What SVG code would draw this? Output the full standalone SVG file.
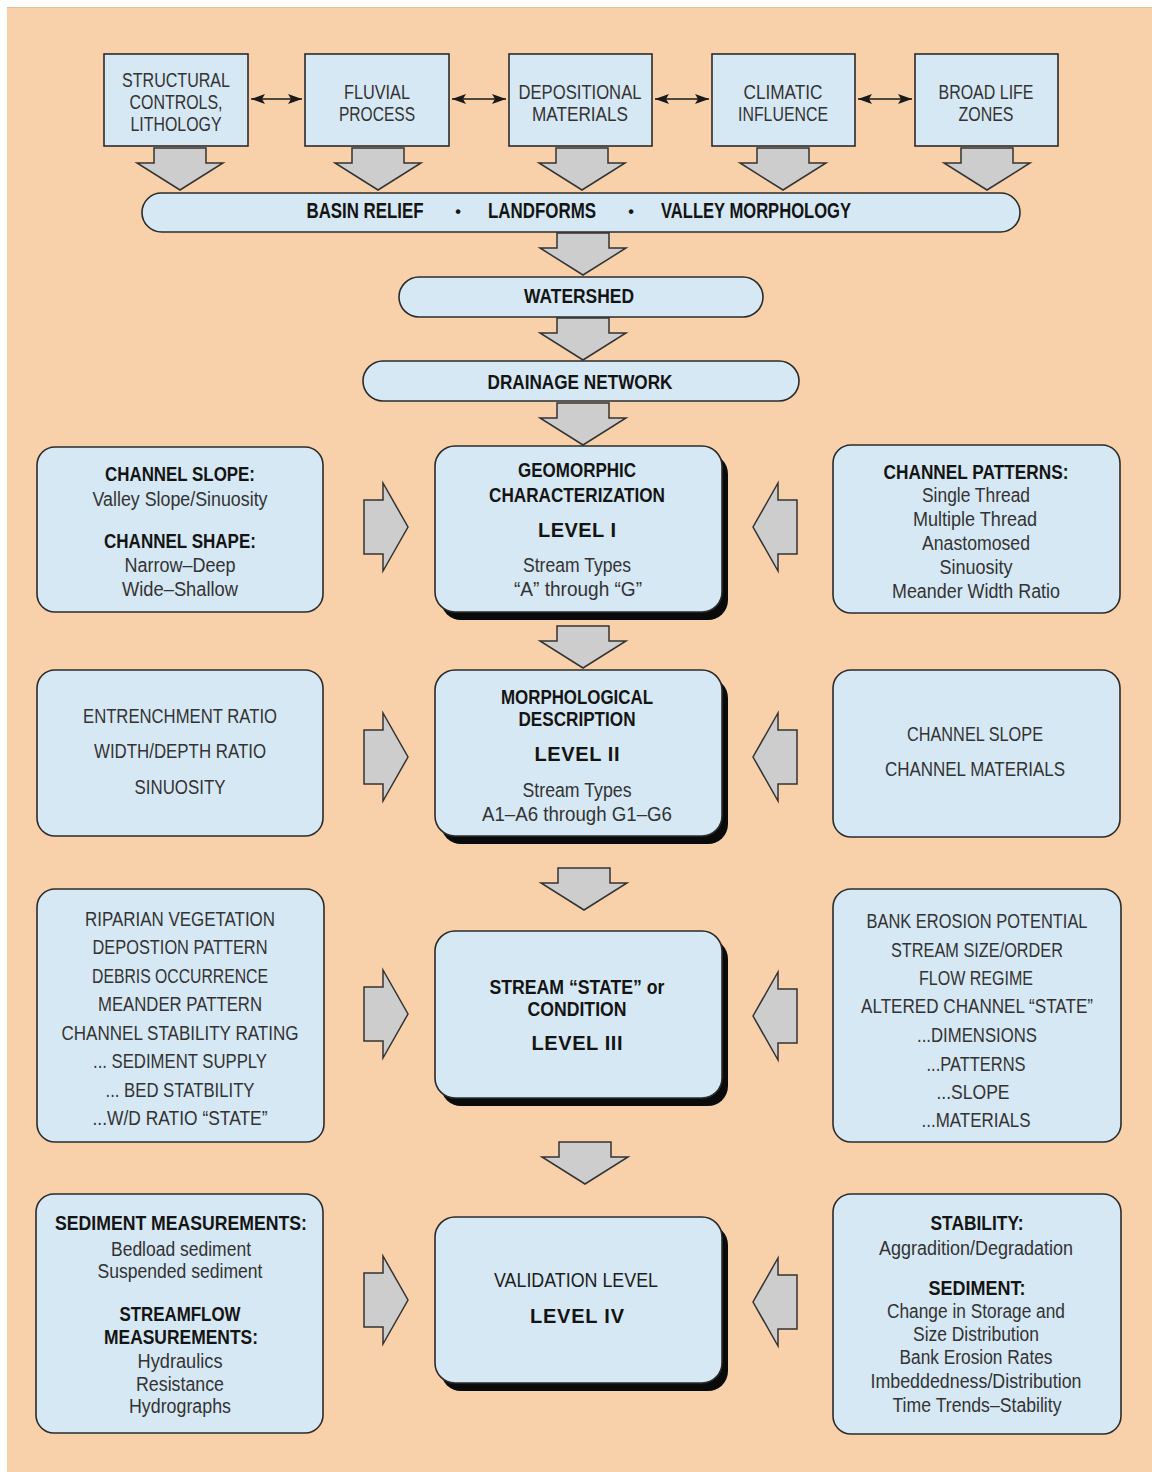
<svg xmlns="http://www.w3.org/2000/svg" xmlns:xlink="http://www.w3.org/1999/xlink" width="1152" height="1472" viewBox="0 0 1152 1472">
<style>
.bg{fill:#F8D1AA}
.box{fill:#D6E8F3;stroke:#2b2b2b;stroke-width:1.6}
.shadow{fill:#0a0a0a}
.ar{fill:#CDCDCD;stroke:#333;stroke-width:1.5;stroke-linejoin:miter}
.dbl{stroke:#1a1a1a;stroke-width:1.6;fill:none}
text{font-family:"Liberation Sans",Arial,sans-serif;text-anchor:middle;font-size:20px}
.r{fill:#333333}
.h{fill:#141414;font-weight:bold}
.p{fill:#141414;font-weight:bold;font-size:22px}
.dot{fill:#141414;font-weight:bold;font-size:16px}
.lv{fill:#141414;font-weight:bold;font-size:20px}
</style>
<defs>
<path id="dn" d="M-26,0 H26 V15 H43 L0,42 L-43,15 H-26 Z"/>
<path id="rt" d="M0,-27 H19 V-44 L44,0 L19,44 V27 H0 Z"/>
<path id="lt" d="M44,-27 H25 V-44 L0,0 L25,44 V27 H44 Z"/>
<marker id="ah" viewBox="0 0 14 10" markerUnits="userSpaceOnUse" markerWidth="14" markerHeight="10" refX="14" refY="5" orient="auto-start-reverse">
<path d="M0,0 L14,5 L0,10 L3,5 Z" fill="#1a1a1a"/>
</marker>
</defs>
<rect width="1152" height="1472" fill="#ffffff"/>
<rect class="bg" x="7" y="7" width="1145" height="1465"/>
<line x1="7" y1="7.5" x2="1152" y2="7.5" stroke="#E6BC96" stroke-width="1"/>

<g id="connectors">
<line class="dbl" x1="251" y1="99" x2="302" y2="99" marker-start="url(#ah)" marker-end="url(#ah)"/>
<line class="dbl" x1="452" y1="99" x2="506" y2="99" marker-start="url(#ah)" marker-end="url(#ah)"/>
<line class="dbl" x1="655" y1="99" x2="709" y2="99" marker-start="url(#ah)" marker-end="url(#ah)"/>
<line class="dbl" x1="858" y1="99" x2="912" y2="99" marker-start="url(#ah)" marker-end="url(#ah)"/>
<use href="#dn" class="ar" x="180" y="148"/>
<use href="#dn" class="ar" x="378" y="148"/>
<use href="#dn" class="ar" x="582" y="148"/>
<use href="#dn" class="ar" x="783" y="148"/>
<use href="#dn" class="ar" x="987" y="148"/>
<use href="#dn" class="ar" x="583" y="233"/>
<use href="#dn" class="ar" x="583" y="318"/>
<use href="#dn" class="ar" x="583" y="403"/>
<use href="#dn" class="ar" x="583" y="626"/>
<use href="#dn" class="ar" x="584" y="868"/>
<use href="#dn" class="ar" x="585" y="1142"/>
<use href="#rt" class="ar" x="364" y="527"/>
<use href="#lt" class="ar" x="753" y="527"/>
<use href="#rt" class="ar" x="364" y="757"/>
<use href="#lt" class="ar" x="753" y="757"/>
<use href="#rt" class="ar" x="364" y="1014"/>
<use href="#lt" class="ar" x="753" y="1016"/>
<use href="#rt" class="ar" x="364" y="1300"/>
<use href="#lt" class="ar" x="753" y="1302"/>
</g>

<g id="n-structural">
<rect class="box" x="104" y="54" width="144" height="92"/>
<text class="r" x="176" y="87" textLength="108" lengthAdjust="spacingAndGlyphs">STRUCTURAL</text>
<text class="r" x="176" y="109" textLength="93" lengthAdjust="spacingAndGlyphs">CONTROLS,</text>
<text class="r" x="176" y="131" textLength="91" lengthAdjust="spacingAndGlyphs">LITHOLOGY</text>
</g>
<g id="n-fluvial">
<rect class="box" x="305" y="54" width="144" height="92"/>
<text class="r" x="377" y="99" textLength="66" lengthAdjust="spacingAndGlyphs">FLUVIAL</text>
<text class="r" x="377" y="121" textLength="76" lengthAdjust="spacingAndGlyphs">PROCESS</text>
</g>
<g id="n-depositional">
<rect class="box" x="509" y="54" width="143" height="92"/>
<text class="r" x="580" y="99" textLength="123" lengthAdjust="spacingAndGlyphs">DEPOSITIONAL</text>
<text class="r" x="580" y="121" textLength="96" lengthAdjust="spacingAndGlyphs">MATERIALS</text>
</g>
<g id="n-climatic">
<rect class="box" x="712" y="54" width="143" height="92"/>
<text class="r" x="783" y="99" textLength="79" lengthAdjust="spacingAndGlyphs">CLIMATIC</text>
<text class="r" x="783" y="121" textLength="90" lengthAdjust="spacingAndGlyphs">INFLUENCE</text>
</g>
<g id="n-lifezones">
<rect class="box" x="915" y="54" width="143" height="92"/>
<text class="r" x="986" y="99" textLength="95" lengthAdjust="spacingAndGlyphs">BROAD LIFE</text>
<text class="r" x="986" y="121" textLength="55" lengthAdjust="spacingAndGlyphs">ZONES</text>
</g>

<g id="n-basin">
<rect class="box" x="142" y="193" width="878" height="39" rx="19.5"/>
<text class="p" x="365" y="218" textLength="117" lengthAdjust="spacingAndGlyphs">BASIN RELIEF</text>
<text class="dot" x="458" y="217">•</text>
<text class="p" x="542" y="218" textLength="108" lengthAdjust="spacingAndGlyphs">LANDFORMS</text>
<text class="dot" x="631" y="217">•</text>
<text class="p" x="756" y="218" textLength="190" lengthAdjust="spacingAndGlyphs">VALLEY MORPHOLOGY</text>
</g>
<g id="n-watershed">
<rect class="box" x="399" y="277" width="364" height="40" rx="20"/>
<text class="h" x="579" y="303" textLength="110" lengthAdjust="spacingAndGlyphs">WATERSHED</text>
</g>
<g id="n-drainage">
<rect class="box" x="363" y="361" width="436" height="40" rx="20"/>
<text class="h" x="580" y="389" textLength="185" lengthAdjust="spacingAndGlyphs">DRAINAGE NETWORK</text>
</g>

<g id="n-level1">
<rect class="shadow" x="441" y="454" width="287" height="166" rx="20"/>
<rect class="box" x="435" y="446" width="287" height="166" rx="20"/>
<text class="h" x="577" y="477" textLength="118" lengthAdjust="spacingAndGlyphs">GEOMORPHIC</text>
<text class="h" x="577" y="502" textLength="176" lengthAdjust="spacingAndGlyphs">CHARACTERIZATION</text>
<text class="lv" x="577" y="537" textLength="78" lengthAdjust="spacing">LEVEL I</text>
<text class="r" x="577" y="572" textLength="108" lengthAdjust="spacingAndGlyphs">Stream Types</text>
<text class="r" x="578" y="596" textLength="128" lengthAdjust="spacingAndGlyphs">“A” through “G”</text>
</g>
<g id="n-level2">
<rect class="shadow" x="441" y="678" width="287" height="166" rx="20"/>
<rect class="box" x="435" y="670" width="287" height="166" rx="20"/>
<text class="h" x="577" y="704" textLength="152" lengthAdjust="spacingAndGlyphs">MORPHOLOGICAL</text>
<text class="h" x="577" y="726" textLength="117" lengthAdjust="spacingAndGlyphs">DESCRIPTION</text>
<text class="lv" x="577" y="761" textLength="85" lengthAdjust="spacing">LEVEL II</text>
<text class="r" x="577" y="797" textLength="109" lengthAdjust="spacingAndGlyphs">Stream Types</text>
<text class="r" x="577" y="821" textLength="190" lengthAdjust="spacingAndGlyphs">A1–A6 through G1–G6</text>
</g>
<g id="n-level3">
<rect class="shadow" x="441" y="939" width="287" height="167" rx="20"/>
<rect class="box" x="435" y="931" width="287" height="167" rx="20"/>
<text class="h" x="577" y="994" textLength="175" lengthAdjust="spacingAndGlyphs">STREAM “STATE” or</text>
<text class="h" x="577" y="1016" textLength="99" lengthAdjust="spacingAndGlyphs">CONDITION</text>
<text class="lv" x="577" y="1050" textLength="91" lengthAdjust="spacing">LEVEL III</text>
</g>
<g id="n-level4">
<rect class="shadow" x="441" y="1225" width="287" height="166" rx="20"/>
<rect class="box" x="435" y="1217" width="287" height="166" rx="20"/>
<text class="r" x="576" y="1287" textLength="164" lengthAdjust="spacingAndGlyphs" style="fill:#1c1c1c">VALIDATION LEVEL</text>
<text class="lv" x="577" y="1323" textLength="94" lengthAdjust="spacing">LEVEL IV</text>
</g>

<g id="n-left1">
<rect class="box" x="37" y="447" width="286" height="165" rx="18"/>
<text class="h" x="180" y="481" textLength="150" lengthAdjust="spacingAndGlyphs">CHANNEL SLOPE:</text>
<text class="r" x="180" y="506" textLength="175" lengthAdjust="spacingAndGlyphs">Valley Slope/Sinuosity</text>
<text class="h" x="180" y="548" textLength="152" lengthAdjust="spacingAndGlyphs">CHANNEL SHAPE:</text>
<text class="r" x="180" y="572" textLength="111" lengthAdjust="spacingAndGlyphs">Narrow–Deep</text>
<text class="r" x="180" y="596" textLength="116" lengthAdjust="spacingAndGlyphs">Wide–Shallow</text>
</g>
<g id="n-left2">
<rect class="box" x="37" y="670" width="286" height="166" rx="18"/>
<text class="r" x="180" y="723" textLength="194" lengthAdjust="spacingAndGlyphs">ENTRENCHMENT RATIO</text>
<text class="r" x="180" y="758" textLength="172" lengthAdjust="spacingAndGlyphs">WIDTH/DEPTH RATIO</text>
<text class="r" x="180" y="794" textLength="91" lengthAdjust="spacingAndGlyphs">SINUOSITY</text>
</g>
<g id="n-left3">
<rect class="box" x="37" y="889" width="287" height="253" rx="18"/>
<text class="r" x="180" y="926" textLength="190" lengthAdjust="spacingAndGlyphs">RIPARIAN VEGETATION</text>
<text class="r" x="180" y="954" textLength="175" lengthAdjust="spacingAndGlyphs">DEPOSTION PATTERN</text>
<text class="r" x="180" y="983" textLength="176" lengthAdjust="spacingAndGlyphs">DEBRIS OCCURRENCE</text>
<text class="r" x="180" y="1011" textLength="164" lengthAdjust="spacingAndGlyphs">MEANDER PATTERN</text>
<text class="r" x="180" y="1040" textLength="237" lengthAdjust="spacingAndGlyphs">CHANNEL STABILITY RATING</text>
<text class="r" x="180" y="1068" textLength="174" lengthAdjust="spacingAndGlyphs">... SEDIMENT SUPPLY</text>
<text class="r" x="180" y="1097" textLength="149" lengthAdjust="spacingAndGlyphs">... BED STATBILITY</text>
<text class="r" x="180" y="1125" textLength="175" lengthAdjust="spacingAndGlyphs">...W/D RATIO “STATE”</text>
</g>
<g id="n-left4">
<rect class="box" x="36" y="1194" width="287" height="239" rx="18"/>
<text class="h" x="181" y="1230" textLength="252" lengthAdjust="spacingAndGlyphs">SEDIMENT MEASUREMENTS:</text>
<text class="r" x="181" y="1256" textLength="140" lengthAdjust="spacingAndGlyphs">Bedload sediment</text>
<text class="r" x="180" y="1278" textLength="165" lengthAdjust="spacingAndGlyphs">Suspended sediment</text>
<text class="h" x="180" y="1321" textLength="121" lengthAdjust="spacingAndGlyphs">STREAMFLOW</text>
<text class="h" x="181" y="1344" textLength="154" lengthAdjust="spacingAndGlyphs">MEASUREMENTS:</text>
<text class="r" x="180" y="1368" textLength="85" lengthAdjust="spacingAndGlyphs">Hydraulics</text>
<text class="r" x="180" y="1391" textLength="88" lengthAdjust="spacingAndGlyphs">Resistance</text>
<text class="r" x="180" y="1413" textLength="102" lengthAdjust="spacingAndGlyphs">Hydrographs</text>
</g>

<g id="n-right1">
<rect class="box" x="833" y="445" width="287" height="168" rx="18"/>
<text class="h" x="976" y="479" textLength="185" lengthAdjust="spacingAndGlyphs">CHANNEL PATTERNS:</text>
<text class="r" x="976" y="502" textLength="108" lengthAdjust="spacingAndGlyphs">Single Thread</text>
<text class="r" x="975" y="526" textLength="124" lengthAdjust="spacingAndGlyphs">Multiple Thread</text>
<text class="r" x="976" y="550" textLength="108" lengthAdjust="spacingAndGlyphs">Anastomosed</text>
<text class="r" x="976" y="574" textLength="73" lengthAdjust="spacingAndGlyphs">Sinuosity</text>
<text class="r" x="976" y="598" textLength="168" lengthAdjust="spacingAndGlyphs">Meander Width Ratio</text>
</g>
<g id="n-right2">
<rect class="box" x="833" y="670" width="287" height="167" rx="18"/>
<text class="r" x="975" y="741" textLength="136" lengthAdjust="spacingAndGlyphs">CHANNEL SLOPE</text>
<text class="r" x="975" y="776" textLength="180" lengthAdjust="spacingAndGlyphs">CHANNEL MATERIALS</text>
</g>
<g id="n-right3">
<rect class="box" x="833" y="889" width="288" height="253" rx="18"/>
<text class="r" x="977" y="928" textLength="221" lengthAdjust="spacingAndGlyphs">BANK EROSION POTENTIAL</text>
<text class="r" x="977" y="957" textLength="172" lengthAdjust="spacingAndGlyphs">STREAM SIZE/ORDER</text>
<text class="r" x="976" y="985" textLength="114" lengthAdjust="spacingAndGlyphs">FLOW REGIME</text>
<text class="r" x="977" y="1013" textLength="232" lengthAdjust="spacingAndGlyphs">ALTERED CHANNEL “STATE”</text>
<text class="r" x="977" y="1042" textLength="120" lengthAdjust="spacingAndGlyphs">...DIMENSIONS</text>
<text class="r" x="976" y="1071" textLength="99" lengthAdjust="spacingAndGlyphs">...PATTERNS</text>
<text class="r" x="973" y="1099" textLength="73" lengthAdjust="spacingAndGlyphs">...SLOPE</text>
<text class="r" x="976" y="1127" textLength="109" lengthAdjust="spacingAndGlyphs">...MATERIALS</text>
</g>
<g id="n-right4">
<rect class="box" x="833" y="1194" width="288" height="240" rx="18"/>
<text class="h" x="977" y="1230" textLength="93" lengthAdjust="spacingAndGlyphs">STABILITY:</text>
<text class="r" x="976" y="1255" textLength="194" lengthAdjust="spacingAndGlyphs">Aggradition/Degradation</text>
<text class="h" x="977" y="1295" textLength="97" lengthAdjust="spacingAndGlyphs">SEDIMENT:</text>
<text class="r" x="976" y="1318" textLength="178" lengthAdjust="spacingAndGlyphs">Change in Storage and</text>
<text class="r" x="976" y="1341" textLength="126" lengthAdjust="spacingAndGlyphs">Size Distribution</text>
<text class="r" x="976" y="1364" textLength="153" lengthAdjust="spacingAndGlyphs">Bank Erosion Rates</text>
<text class="r" x="976" y="1388" textLength="211" lengthAdjust="spacingAndGlyphs">Imbeddedness/Distribution</text>
<text class="r" x="977" y="1412" textLength="169" lengthAdjust="spacingAndGlyphs">Time Trends–Stability</text>
</g>
</svg>
